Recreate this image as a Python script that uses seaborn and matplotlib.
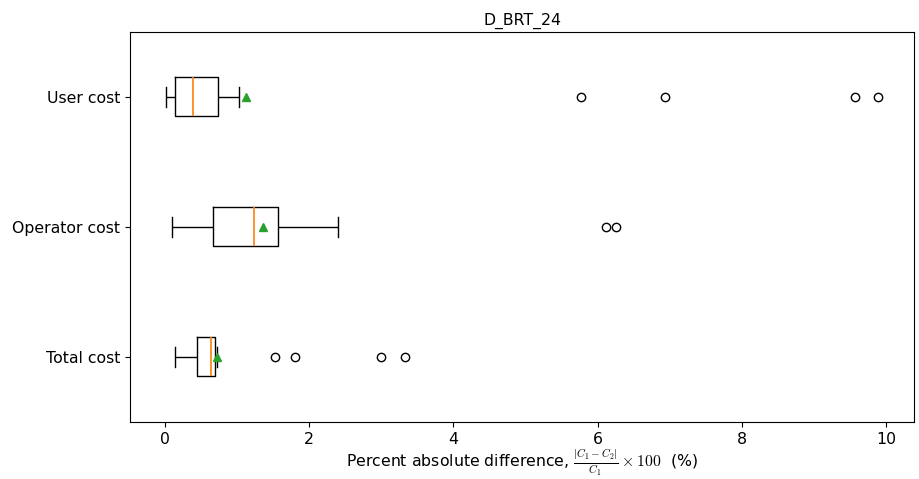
import numpy as np
import pandas as pd
import seaborn as sns
import matplotlib
matplotlib.use("Agg")
import matplotlib.pyplot as plt

categories = ["User cost", "Operator cost", "Total cost"]

user_cost = [0.01, 0.02, 0.03, 0.04, 0.05, 0.06, 0.08, 0.09, 0.11, 0.12, 0.14,
             0.16, 0.18, 0.20, 0.23, 0.25, 0.28, 0.31, 0.34, 0.37,
             0.39,
             0.40, 0.42, 0.44, 0.47, 0.50, 0.54, 0.58, 0.63, 0.69,
             0.73,
             0.74, 0.76, 0.79, 0.83, 0.90, 1.03,
             5.77, 6.93, 9.57, 9.89]

operator_cost = [0.10, 0.15, 0.21, 0.27, 0.33, 0.39, 0.45, 0.51, 0.57, 0.62, 0.67,
                 0.72, 0.78, 0.84, 0.90, 0.96, 1.02, 1.08, 1.14, 1.19,
                 1.23,
                 1.26, 1.29, 1.32, 1.36, 1.40, 1.44, 1.48, 1.51, 1.54,
                 1.57,
                 1.60, 1.64, 1.69, 1.76, 1.85, 1.97, 2.15, 2.40,
                 6.11, 6.25]

total_cost = [0.14, 0.19, 0.24, 0.28, 0.32, 0.35, 0.38, 0.40, 0.42, 0.44, 0.45,
              0.47, 0.49, 0.51, 0.53, 0.55, 0.57, 0.59, 0.61, 0.63,
              0.64,
              0.645, 0.65, 0.655, 0.66, 0.67, 0.675, 0.68, 0.69, 0.695,
              0.70,
              0.705, 0.71, 0.71, 0.715, 0.72, 0.72,
              1.52, 1.81, 3.00, 3.33]

df = pd.DataFrame({
    "cost": [categories[0]] * len(user_cost) + [categories[1]] * len(operator_cost)
            + [categories[2]] * len(total_cost),
    "diff": user_cost + operator_cost + total_cost,
})

plt.rcParams["font.size"] = 11.3
plt.rcParams["mathtext.fontset"] = "cm"

fig = plt.figure(figsize=(9.2, 4.79), dpi=100)
ax = fig.add_axes([0.1413, 0.119, 0.8522, 0.8142])

sns.boxplot(data=df, x="diff", y="cost", order=categories, orient="h",
            width=0.3, fill=False, color="black", linewidth=1, fliersize=6,
            whis=1.5, showmeans=True, capwidths=0.15,
            medianprops=dict(color="#ff7f0e", linewidth=1.2),
            meanprops=dict(marker="^", markerfacecolor="#2ca02c",
                           markeredgecolor="#2ca02c", markersize=6),
            flierprops=dict(marker="o", markerfacecolor="none",
                            markeredgecolor="black"),
            ax=ax)

ax.set_title("D_BRT_24", fontsize=11.3, pad=5)
ax.set_ylabel("")
ax.set_xlabel(r"Percent absolute difference, $\frac{|C_1 - C_2|}{C_1} \times 100$  (%)",
              labelpad=1)
ax.set_xticks([0, 2, 4, 6, 8, 10])

fig.savefig("out.png", dpi=100)
